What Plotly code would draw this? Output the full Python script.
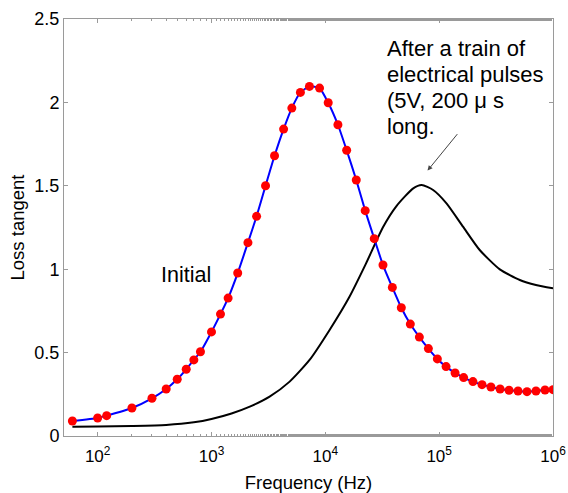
import numpy as np
import plotly.graph_objects as go

# Initial (red markers, blue line)
init_freq = [60, 100, 120, 200, 300, 400, 500, 600, 700, 800, 1000, 1200, 1400, 1700,
             2090, 2490, 2985, 3580, 4300, 5080, 6040, 7250, 8900, 10600, 12900, 15400,
             18700, 22400, 26900, 32100, 38800, 46500, 55800, 67000, 80400, 96400,
             115000, 138000, 164000, 198000, 238000, 285000, 343000, 411000, 493000,
             591000, 709000, 851000, 1000000]
init_tan = [0.09, 0.108, 0.122, 0.168, 0.226, 0.282, 0.34, 0.40, 0.456, 0.505, 0.624, 0.731,
            0.827, 0.977, 1.159, 1.317, 1.50, 1.68, 1.84, 1.966, 2.06, 2.096, 2.086, 1.998,
            1.866, 1.713, 1.535, 1.351, 1.183, 1.025, 0.891, 0.769, 0.671, 0.593, 0.524,
            0.462, 0.416, 0.378, 0.35, 0.326, 0.308, 0.294, 0.282, 0.274, 0.27, 0.266,
            0.27, 0.276, 0.278]

# After pulses (black line)
after_freq = [60, 100, 200, 400, 700, 1000, 1500, 2170, 3240, 4860, 7270, 10900, 16300,
              22800, 32000, 42300, 59200, 70200, 88500, 116000, 162000, 227000,
              341000, 511000, 708000, 1000000]
after_tan = [0.056, 0.057, 0.060, 0.066, 0.082, 0.102, 0.135, 0.176, 0.236, 0.326, 0.456,
             0.636, 0.835, 1.035, 1.25, 1.38, 1.485, 1.505, 1.475, 1.395, 1.255,
             1.115, 0.999, 0.935, 0.905, 0.885]

x_tickvals = [100, 1000, 10000, 100000, 1000000]
x_ticktext = ["10<sup>2</sup>", "10<sup>3</sup>", "10<sup>4</sup>", "10<sup>5</sup>", "10<sup>6</sup>"]
y_tickvals = [0, 0.5, 1, 1.5, 2, 2.5]
y_ticktext = ["0", "0.5", "1", "1.5", "2", "2.5"]

note_lines = ["After a train of", "electrical pulses", "(5V, 200 \u03bc s", "long."]

FONT = "Liberation Sans, Arial, Helvetica, sans-serif"
AXC = "#9a9a9a"

fig = go.Figure()
fig.add_trace(go.Scatter(x=after_freq, y=after_tan, mode="lines",
                         line=dict(color="black", width=2, shape="spline", smoothing=0.6),
                         showlegend=False))
fig.add_trace(go.Scatter(x=init_freq, y=init_tan, mode="lines+markers",
                         line=dict(color="#0000ff", width=2, shape="spline", smoothing=0.5),
                         marker=dict(color="#ff0000", size=9),
                         showlegend=False))

fig.add_annotation(x=np.log10(600), y=0.965, xref="x", yref="y", text="Initial",
                   showarrow=False, font=dict(size=21.5, color="black", family=FONT),
                   xanchor="center", yanchor="middle")

line_y = [2.322, 2.168, 2.011, 1.858]
for t, yy in zip(note_lines, line_y):
    fig.add_annotation(x=4.522, y=yy, xref="x", yref="y", text=t, showarrow=False,
                       font=dict(size=22, color="black", family=FONT),
                       xanchor="left", yanchor="middle")

fig.add_annotation(x=4.898, y=1.591, xref="x", yref="y", text="", showarrow=True,
                   ax=31, ay=-38, arrowhead=2, arrowsize=1, arrowwidth=1,
                   arrowcolor="#444444")

fig.update_xaxes(type="log", range=[1.7044, 6], tickvals=x_tickvals, ticktext=x_ticktext,
                 ticks="inside", ticklen=4, tickcolor=AXC, showline=True, linecolor=AXC,
                 linewidth=1, mirror="ticks", showgrid=False, zeroline=False,
                 automargin=False, ticklabelstandoff=5,
                 tickfont=dict(size=17, color="black", family=FONT),
                 minor=dict(ticks="inside", ticklen=2, tickcolor=AXC, showgrid=False),
                 title=dict(text="Frequency (Hz)", font=dict(size=18.5, color="black", family=FONT),
                            standoff=14))
fig.update_yaxes(range=[0, 2.5], tickvals=y_tickvals, ticktext=y_ticktext,
                 ticks="inside", ticklen=4, tickcolor=AXC, showline=True, linecolor=AXC,
                 linewidth=1, mirror="ticks", showgrid=False, zeroline=False,
                 automargin=False,
                 tickfont=dict(size=18, color="black", family=FONT),
                 title=dict(text="Loss tangent", font=dict(size=18.5, color="black", family=FONT),
                            standoff=4))

fig.update_layout(width=568, height=493, margin=dict(l=64, r=15, t=19, b=57),
                  plot_bgcolor="white", paper_bgcolor="white",
                  font=dict(family=FONT, color="black"))

fig.write_html("out.html")
